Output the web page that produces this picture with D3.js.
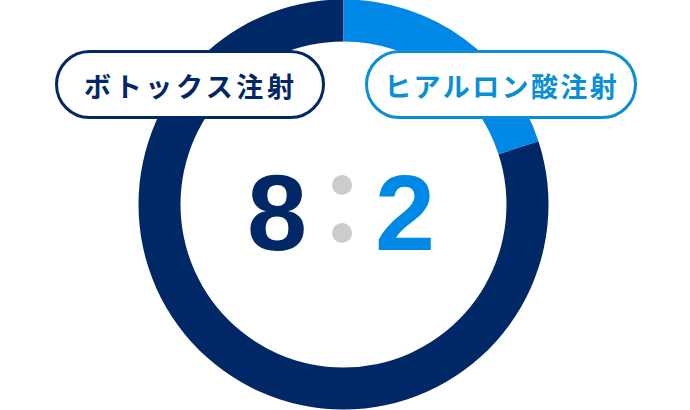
<!DOCTYPE html>
<html><head><meta charset="utf-8">
<script src="https://cdn.jsdelivr.net/npm/d3@7"></script>
<style>html,body{margin:0;padding:0;background:#fff;}svg{display:block;}</style>
</head><body>
<svg id="c" width="690" height="410"></svg>
<script>
const categories = ["ボトックス注射", "ヒアルロン酸注射"];
const values = [8, 2];
const ringColors = ["#002766", "#0088e6"];
const labelColors = ["#002766", "#0a8fd6"];
const numberColors = ["#002766", "#0088e6"];

const svg = d3.select("#c");
const cx = 343.5, cy = 204.5, outerR = 205, innerR = 163;
const total = d3.sum(values);
const offset = 2 * Math.PI * values[1] / total;

const pie = d3.pie().sort(null).startAngle(offset).endAngle(2 * Math.PI + offset);
const arc = d3.arc().innerRadius(innerR).outerRadius(outerR);
const g = svg.append("g").attr("transform", `translate(${cx},${cy})`);
g.selectAll("path").data(pie(values)).join("path")
  .attr("d", arc).attr("fill", (d, i) => ringColors[i]);

// labels (pills)
const pills = [
  {x: 56.5, y: 51.5, w: 267, h: 66, tx: 189, spacing: 3.6},
  {x: 366.5, y: 51.5, w: 269, h: 66, tx: 500.5, spacing: 2.4}
];
categories.forEach((c, i) => {
  const p = pills[i];
  svg.append("rect").attr("x", p.x).attr("y", p.y).attr("width", p.w).attr("height", p.h)
    .attr("rx", p.h / 2).attr("fill", "#fff").attr("stroke", labelColors[i]).attr("stroke-width", 3);
  svg.append("text").attr("x", p.tx + p.spacing / 2).attr("y", 85)
    .attr("text-anchor", "middle").attr("dominant-baseline", "central")
    .attr("font-family", "'Noto Sans CJK JP', sans-serif").attr("font-weight", 700)
    .attr("font-size", 27).attr("letter-spacing", p.spacing)
    .attr("fill", labelColors[i]).text(c);
});

// numbers
const numX = [277, 405];
values.forEach((v, i) => {
  svg.append("text").attr("x", numX[i]).attr("y", 250).attr("text-anchor", "middle")
    .attr("font-family", "'Liberation Sans', Arial, sans-serif").attr("font-weight", 700)
    .attr("font-size", 108).attr("fill", numberColors[i]).text(v);
});
[185, 233].forEach(y => {
  svg.append("circle").attr("cx", 342).attr("cy", y).attr("r", 10).attr("fill", "#cccccc");
});
</script>
</body></html>
